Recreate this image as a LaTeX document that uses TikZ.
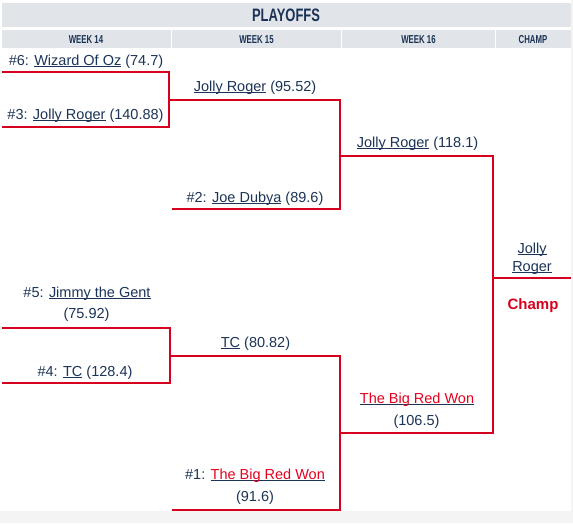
\documentclass[tikz,border=0pt]{standalone}
\usepackage{fontspec}
\usepackage{graphicx}
\setmainfont{Liberation Sans}
\definecolor{navy}{HTML}{1C3457}
\definecolor{hnavy}{HTML}{1A3255}
\definecolor{lred}{HTML}{D7001F}
\definecolor{tred}{HTML}{E6001E}
\definecolor{hbg}{HTML}{E1E5EA}
\definecolor{pagebg}{HTML}{F4F4F4}
\newlength\ulw
\newcommand\ul[1]{\settowidth\ulw{#1}\rlap{\textcolor{navy}{\rule[-1.8pt]{\ulw}{1.1pt}}}#1}
\begin{document}
\begin{tikzpicture}[x=1pt,y=-1pt,
  bracket/.style={draw=lred,line width=2pt,line join=miter},
  team/.style={anchor=base,inner sep=0pt,text=navy,font=\fontsize{14.5}{17}\selectfont},
  hdr/.style={anchor=base,inner sep=0pt,text=hnavy,font=\fontsize{18}{20}\bfseries},
  whdr/.style={anchor=base,inner sep=0pt,text=hnavy,font=\fontsize{11.5}{13}\bfseries},
  cell/.style={fill=hbg,draw=none}]
\useasboundingbox (0,0) rectangle (573,523);
% backgrounds
\fill[white] (0,0) rectangle (573,523);
\fill[pagebg] (0,511) rectangle (573,523);
\fill[pagebg] (571,0) rectangle (573,523);
\path[cell] (2,3) rectangle (571,27);
\path[cell] (2,30) rectangle (170.5,47.5);
\path[cell] (171.5,30) rectangle (340.5,47.5);
\path[cell] (341.5,30) rectangle (494.5,47.5);
\path[cell] (495.5,30) rectangle (571,47.5);
% headers
\node[hdr] (title) at (286,21) {\scalebox{0.72}[1]{PLAYOFFS}};
\node[whdr] (h14) at (86,43) {\scalebox{0.68}[1]{WEEK 14}};
\node[whdr] (h15) at (256.5,43) {\scalebox{0.68}[1]{WEEK 15}};
\node[whdr] (h16) at (418.5,43) {\scalebox{0.68}[1]{WEEK 16}};
\node[whdr] (hch) at (533,43) {\scalebox{0.68}[1]{CHAMP}};
% bracket corner coordinates
\coordinate (a1) at (2,72);   \coordinate (a2) at (169,72);
\coordinate (a3) at (169,127); \coordinate (a4) at (2,127);
\coordinate (am) at (169,100);
\coordinate (b1) at (340,100); \coordinate (b2) at (340,209); \coordinate (b3) at (172,209);
\coordinate (bm) at (340,156);
\coordinate (c1) at (493,156); \coordinate (c2) at (493,433); \coordinate (c3) at (340,433);
\coordinate (cm) at (493,278); \coordinate (ce) at (571,278);
\coordinate (d1) at (2,328);   \coordinate (d2) at (170,328);
\coordinate (d3) at (170,383); \coordinate (d4) at (2,383);
\coordinate (dm) at (170,356);
\coordinate (e1) at (340,356); \coordinate (e2) at (340,510); \coordinate (e3) at (172,510);
% connectors
\draw[bracket] (a1) -- (a2) -- (a3) -- (a4);
\draw[bracket] (am) -- (b1) -- (b2) -- (b3);
\draw[bracket] (bm) -- (c1) -- (c2) -- (c3);
\draw[bracket] (cm) -- (ce);
\draw[bracket] (d1) -- (d2) -- (d3) -- (d4);
\draw[bracket] (dm) -- (e1) -- (e2) -- (e3);
% teams
\node[team] (n6) at (86,65) {\#6: \ul{Wizard Of Oz} (74.7)};
\node[team] (n3) at (85.5,119) {\#3: \ul{Jolly Roger} (140.88)};
\node[team] (w15a) at (255,91) {\ul{Jolly Roger} (95.52)};
\node[team] (n2) at (255,202) {\#2: \ul{Joe Dubya} (89.6)};
\node[team] (w16a) at (417.5,147) {\ul{Jolly Roger} (118.1)};
\node[team] (ch1) at (532,253) {\ul{Jolly}};
\node[team] (ch2) at (532,271) {\ul{Roger}};
\node[team,text=lred,font=\fontsize{15}{17}\bfseries] (chl) at (533,309) {Champ};
\node[team] (n5) at (87,297) {\#5: \ul{Jimmy the Gent}};
\node[team] (n5s) at (86.5,318) {(75.92)};
\node[team] (n4) at (85,376) {\#4: \ul{TC} (128.4)};
\node[team] (w15b) at (255.5,347) {\ul{TC} (80.82)};
\node[team] (w16b) at (417,403) {\ul{\textcolor{tred}{The Big Red Won}}};
\node[team] (w16bs) at (416.5,425) {(106.5)};
\node[team] (n1) at (255,479) {\#1: \ul{\textcolor{tred}{The Big Red Won}}};
\node[team] (n1s) at (255,501) {(91.6)};
\end{tikzpicture}
\end{document}
